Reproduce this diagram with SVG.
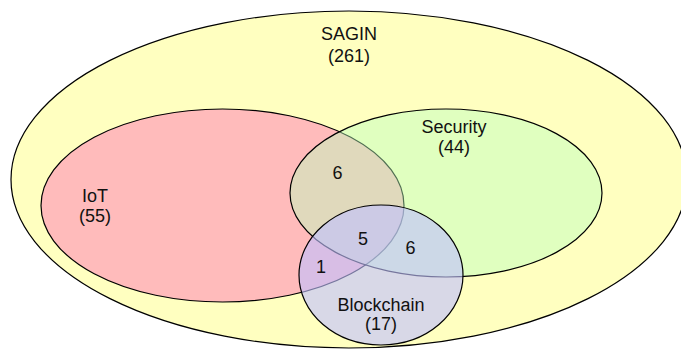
<svg xmlns="http://www.w3.org/2000/svg" width="681" height="349" viewBox="0 0 681 349">
  <style>
    .set { stroke: #000; stroke-width: 1.2; }
    .label { font-family: "Liberation Sans", Arial, sans-serif; font-size: 18px; fill: #111; text-anchor: middle; }
  </style>
  <rect width="681" height="349" fill="#fff"/>

  <!-- Universe: SAGIN -->
  <g id="sagin">
    <ellipse class="set" cx="349" cy="179.5" rx="338" ry="168.5" fill="#ffffc0"/>
    <text class="label" x="349" y="40">SAGIN</text>
    <text class="label" x="349" y="62">(261)</text>
  </g>

  <!-- IoT -->
  <g id="iot">
    <ellipse class="set" cx="222.5" cy="205.5" rx="181.5" ry="96.5" fill="#ffbbbb"/>
    <text class="label" x="95" y="202">IoT</text>
    <text class="label" x="95" y="222">(55)</text>
  </g>

  <!-- Security (translucent fill over IoT) -->
  <g id="security">
    <ellipse class="set" cx="446" cy="193" rx="156" ry="84" fill="rgb(184,255,190)" fill-opacity="0.44"/>
    <text class="label" x="454" y="133">Security</text>
    <text class="label" x="454" y="153">(44)</text>
  </g>

  <!-- Blockchain (translucent fill over both) -->
  <g id="blockchain">
    <ellipse class="set" cx="381" cy="275" rx="82" ry="70" fill="rgb(192,192,255)" fill-opacity="0.62"/>
    <text class="label" x="381" y="311">Blockchain</text>
    <text class="label" x="381" y="330">(17)</text>
  </g>

  <!-- Intersection counts -->
  <g id="intersections">
    <text class="label" x="337.5" y="179">6</text>
    <text class="label" x="363" y="245">5</text>
    <text class="label" x="410.5" y="254">6</text>
    <text class="label" x="321" y="273">1</text>
  </g>
</svg>
